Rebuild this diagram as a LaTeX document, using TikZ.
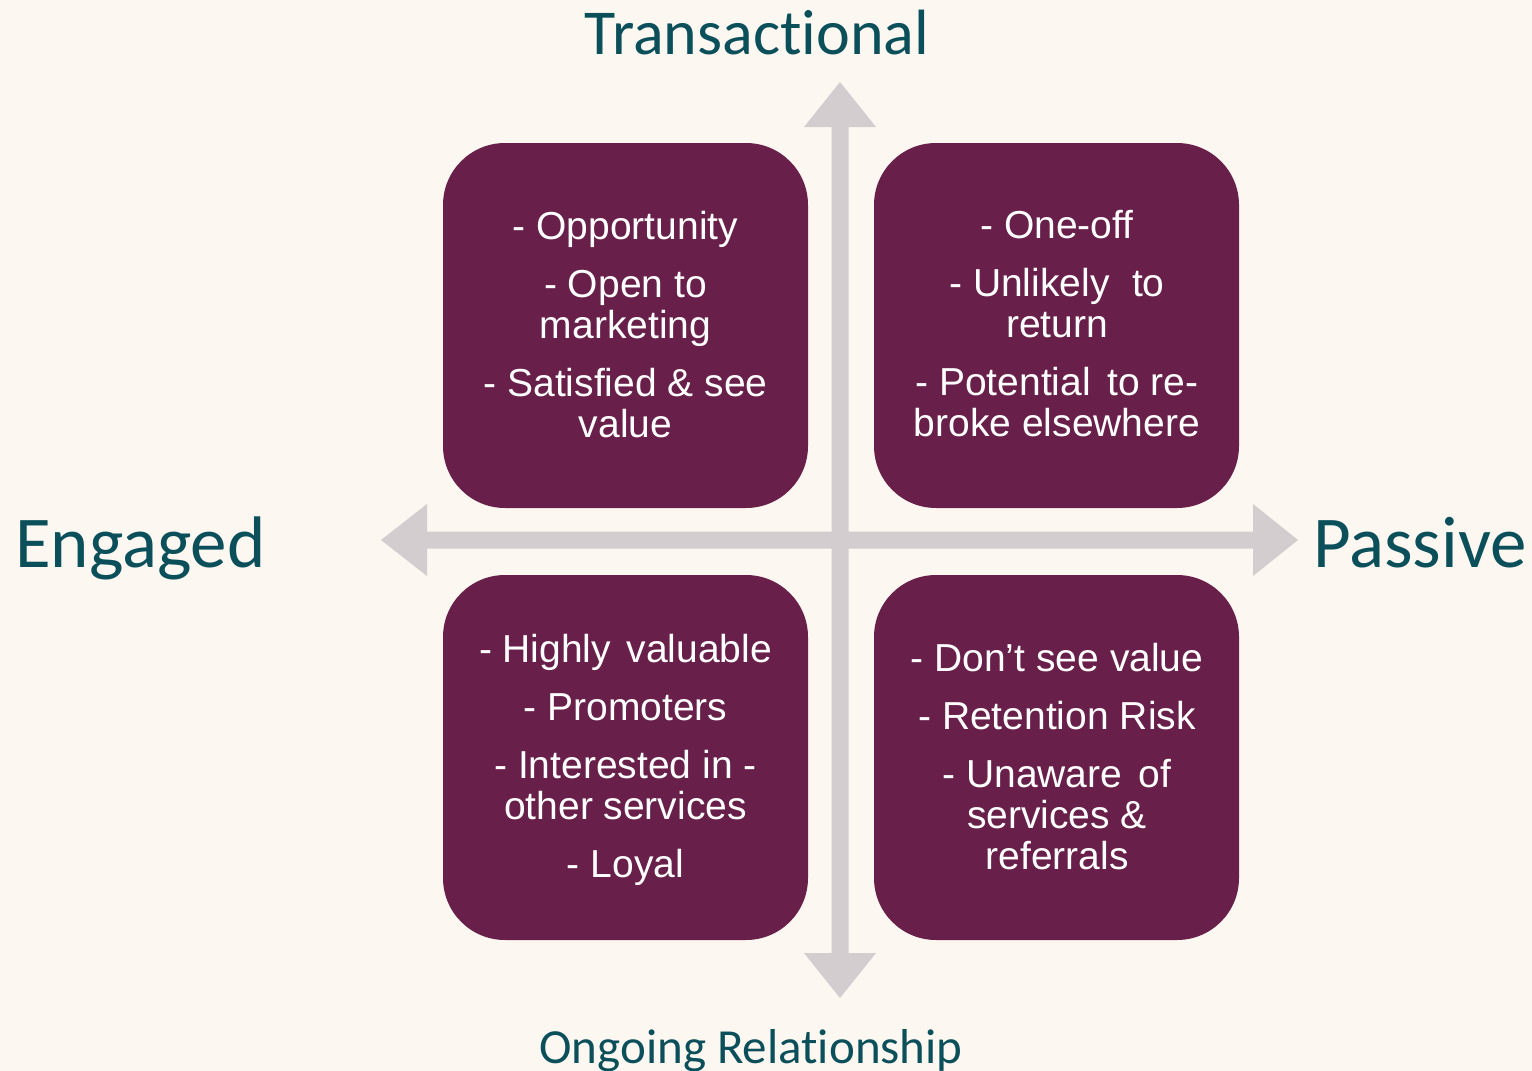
\documentclass[tikz,border=0pt]{standalone}
\usepackage{fontspec}
\setmainfont{Liberation Sans}
\newfontfamily\titlefont[Ligatures={NoCommon}]{Carlito}
\definecolor{bgcol}{HTML}{FCF7F0}
\definecolor{boxcol}{HTML}{68204A}
\definecolor{arrowcol}{HTML}{D3CDD0}
\definecolor{tealcol}{HTML}{0B4F5B}
\tikzset{
  quad/.style={fill=boxcol, draw=none, rounded corners=62pt, minimum width=365pt, minimum height=365pt, inner sep=0pt},
  quadtext/.style={text=white, align=center, font=\fontsize{39}{41}\selectfont, inner sep=0pt},
  axislabel/.style={text=tealcol, inner sep=0pt},
  axisarrow/.style={fill=arrowcol, draw=none}
}
\begin{document}
\begin{tikzpicture}[x=1pt,y=-1pt]
\fill[bgcol] (0,0) rectangle (1532,1071);
\useasboundingbox (0,0) rectangle (1532,1071);
% axes
\coordinate (c) at (840,540);
\fill[axisarrow] (831.5,127) -- (804,127) -- (840,82) -- (876,127) -- (848.5,127)
  -- (848.5,953) -- (876,953) -- (840,998) -- (804,953) -- (831.5,953) -- cycle;
\fill[axisarrow] (427,531.5) -- (427,504) -- (381,540) -- (427,576) -- (427,548.5)
  -- (1253,548.5) -- (1253,576) -- (1298,540) -- (1253,504) -- (1253,531.5) -- cycle;
% quadrants
\node[quad] (tl) at (625.5,325.5) {};
\node[quad] (tr) at (1056.5,325.5) {};
\node[quad] (bl) at (625.5,757.5) {};
\node[quad] (br) at (1056.5,757.5) {};
\node[quadtext] (tlt) at (625.5,325) {- Opportunity\\[17pt]- Open to\\marketing\\[17pt]- Satisfied \& see\\value};
\node[quadtext] (trt) at (1057,324) {- One-off\\[17pt]- Unlikely\hspace{0.3em} to\\return\\[17pt]- Potential\hspace{0.15em} to re-\\broke elsewhere};
\node[quadtext] (blt) at (625.5,759.5) {- Highly\hspace{0.12em} valuable\\[17pt]- Promoters\\[17pt]- Interested in -\\other services\\[17pt]- Loyal};
\node[quadtext] (brt) at (1057,756.5) {- Don’t see value\\[17pt]- Retention Risk\\[17pt]- Unaware\hspace{0.15em} of\\services \&\\referrals};
% axis labels
\node[axislabel, font=\titlefont\fontsize{64}{64}\selectfont, anchor=base] (top) at (757,54) {Transactional};
\node[axislabel, font=\titlefont\fontsize{73}{73}\selectfont, anchor=base west] (left) at (15,567) {Engaged};
\node[axislabel, font=\titlefont\fontsize{73}{73}\selectfont, anchor=base west] (right) at (1313,567) {Passive};
\node[axislabel, font=\titlefont\fontsize{49}{49}\selectfont, anchor=base] (bottom) at (751,1063) {Ongoing Relationship};
\end{tikzpicture}
\end{document}
